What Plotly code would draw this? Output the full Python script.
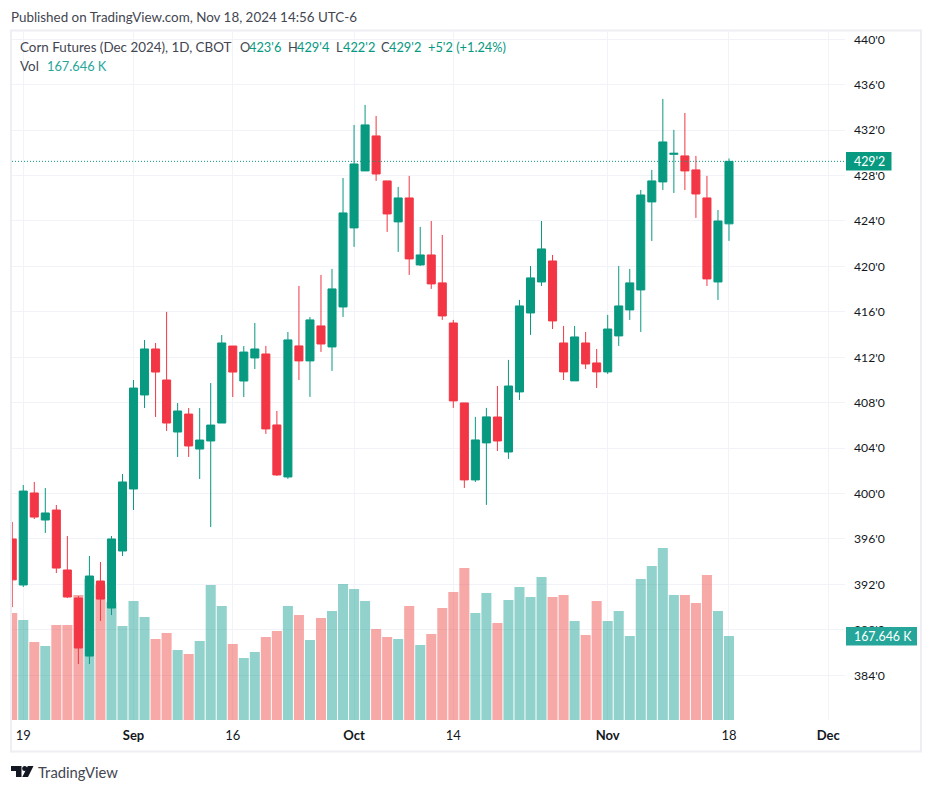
import pandas as pd
import plotly.graph_objects as go

# daily bars, Aug 16 to Nov 18 2024
opens = [396.0, 391.95, 400.05, 397.67, 398.55, 393.27, 390.8, 385.69, 392.3, 389.92, 394.94,
         400.4, 408.68, 412.73, 410.0, 405.42, 407.0, 403.92, 404.63, 406.21, 412.99,
         409.91, 411.94, 412.29, 406.04, 401.46, 413.0, 411.68, 414.76, 412.91, 416.43,
         423.39, 428.41, 431.49, 427.53, 423.92, 426.03, 420.13, 421.01, 418.55, 415.02,
         407.98, 401.2, 404.46, 406.74, 403.66, 408.95, 415.9, 418.63, 420.48, 413.26,
         409.92, 413.26, 411.5, 410.71, 413.88, 416.17, 417.93, 425.68, 427.44, 429.87,
         429.73, 428.5, 426.03, 418.63, 423.75]
highs = [397.5, 400.75, 401.02, 400.49, 398.99, 396.26, 390.98, 394.5, 393.97, 396.26, 401.72,
         410.0, 413.52, 413.26, 416.0, 407.97, 407.53, 407.53, 409.73, 413.96, 412.99,
         412.99, 415.02, 413.0, 407.27, 414.23, 418.28, 415.55, 419.25, 419.78, 427.79,
         432.46, 434.22, 433.25, 427.53, 427.0, 427.97, 423.48, 424.0, 422.77, 415.29,
         407.98, 406.75, 407.54, 409.47, 411.77, 417.05, 420.04, 424.0, 421.01, 414.76,
         414.76, 414.23, 412.73, 415.73, 420.04, 419.78, 426.73, 428.5, 434.75, 432.02,
         433.51, 429.73, 427.97, 424.97, 429.5]
lows = [390.0, 391.77, 397.76, 396.53, 393.0, 390.8, 384.99, 384.99, 388.78, 389.3, 394.5,
        398.55, 407.53, 406.74, 405.51, 403.22, 403.22, 401.28, 397.05, 406.21, 408.5,
        408.5, 410.97, 405.25, 401.55, 401.29, 410.0, 408.51, 412.47, 410.8, 415.55,
        421.72, 428.41, 427.53, 423.04, 421.28, 419.25, 420.04, 418.02, 415.29, 407.54,
        400.49, 401.02, 399.0, 403.75, 403.05, 408.24, 413.97, 418.28, 414.49, 410.0,
        409.92, 410.97, 409.3, 410.53, 413.0, 415.29, 414.23, 422.24, 426.73, 426.47,
        426.73, 424.27, 418.28, 417.05, 422.25]
closes = [392.4, 400.22, 397.93, 398.29, 393.44, 390.89, 386.4, 392.74, 390.71, 396.0, 401.02,
          409.29, 412.73, 410.7, 406.21, 407.27, 404.19, 404.71, 406.03, 413.26, 410.7,
          412.46, 412.73, 405.69, 401.64, 413.53, 411.68, 415.29, 413.17, 418.02, 424.71,
          429.02, 432.46, 428.14, 424.62, 426.03, 420.66, 421.01, 418.46, 415.64, 408.16,
          401.2, 404.72, 406.75, 404.63, 409.47, 416.52, 418.99, 421.54, 415.2, 410.71,
          413.79, 411.41, 410.71, 414.49, 416.52, 418.55, 426.29, 427.53, 430.96, 429.96,
          428.41, 426.38, 418.9, 424.0, 429.25]
volumes = [213.5, 199.6, 155.7, 147.7, 189.6, 189.6, 249.5, 281.4, 269.4, 235.5, 187.6,
           237.5, 205.6, 161.7, 173.6, 139.7, 131.7, 157.7, 269.4, 227.5, 151.7,
           123.7, 135.7, 165.6, 177.6, 227.5, 209.5, 159.7, 203.6, 217.5, 271.4,
           261.4, 237.5, 181.6, 165.6, 161.7, 227.5, 149.7, 171.6, 223.5, 255.4,
           303.3, 213.5, 253.5, 193.6, 239.5, 265.4, 245.5, 285.4, 245.5, 249.5,
           197.6, 169.6, 237.5, 197.6, 217.5, 167.6, 281.4, 307.3, 343.3, 249.5,
           249.5, 233.5, 289.4, 217.5, 167.646]

holidays = ["2024-09-02", "2024-11-28"]
days = [d.strftime("%Y-%m-%d") for d in pd.bdate_range("2024-08-16", "2024-12-06")
        if d.strftime("%Y-%m-%d") not in holidays]
dates = days[:len(closes)]

x_tick_dates = ["2024-08-19", "2024-09-03", "2024-09-16", "2024-10-01",
                "2024-10-14", "2024-11-01", "2024-11-18", "2024-12-02"]
x_tick_text = ["19", "<b>Sep</b>", "16", "<b>Oct</b>", "14", "<b>Nov</b>", "18", "<b>Dec</b>"]
y_ticks = list(range(384, 444, 4))
y_tick_text = [f"{v}'0" for v in y_ticks]

GREEN = "#089981"
RED = "#f23645"
VOL_GREEN = "rgba(38,166,154,0.5)"
VOL_RED = "rgba(239,83,80,0.5)"
GRID = "#f1f3f8"
TEXT = "#131722"
GREY = "#434651"
FONT = "Lato"

W, H = 932, 791
L, R, T, B = 12, 845, 31, 720


# pixel position of the page -> paper coords, only for the frame, header and logo
def px(x):
    return (x - L) / (R - L)


def py(y):
    return (B - y) / (B - T)


fig = go.Figure()

vol_colors = [VOL_GREEN if c >= o else VOL_RED for o, c in zip(opens, closes)]
fig.add_trace(go.Bar(x=dates, y=volumes, marker_color=vol_colors, marker_line_width=0,
                     width=0.91, hoverinfo="skip"))

fig.add_trace(go.Candlestick(
    x=dates, open=opens, high=highs, low=lows, close=closes,
    yaxis="y2",
    whiskerwidth=0,
    increasing=dict(line=dict(color=GREEN, width=1), fillcolor=GREEN),
    decreasing=dict(line=dict(color=RED, width=1), fillcolor=RED),
))

# frame around the chart
fig.add_shape(type="rect", xref="paper", yref="paper",
              x0=px(11), x1=px(921), y0=py(751.5), y1=py(30.5),
              line=dict(color="#eeeef4", width=2), layer="below")

# last price line and the two axis labels
fig.add_shape(type="line", xref="paper", yref="y2", x0=0, x1=1,
              y0=closes[-1], y1=closes[-1],
              line=dict(color=GREEN, width=1, dash="1px,2px"), layer="above")
fig.add_shape(type="rect", xref="paper", yref="paper",
              x0=px(846), x1=px(891.5), y0=py(170.5), y1=py(152),
              fillcolor=GREEN, line_width=0, layer="above")
fig.add_shape(type="rect", xref="paper", yref="paper",
              x0=px(846), x1=px(917), y0=py(645.5), y1=py(627),
              fillcolor="#26a69a", line_width=0, layer="above")


def label(x, y, text, color=GREY, size=13.4, anchor="left"):
    fig.add_annotation(xref="paper", yref="paper", x=px(x), y=py(y), text=text,
                       showarrow=False, xanchor=anchor, yanchor="middle",
                       font=dict(family=FONT, size=size, color=color),
                       borderpad=0, borderwidth=0)


label(854, 161.5, "429'2", "white", 12.4)
label(854, 636.5, "167.646 K", "white", 12.4)

label(11, 17, "Published on TradingView.com, Nov 18, 2024 14:56 UTC-6")
label(20, 47, "Corn Futures (Dec 2024), 1D, CBOT")
for x, t, c in [(240, "O", GREY), (249, "423'6", GREEN),
                (288, "H", GREY), (297, "429'4", GREEN),
                (336, "L", GREY), (343, "422'2", GREEN),
                (381, "C", GREY), (389, "429'2", GREEN),
                (428, "+5'2 (+1.24%)", GREEN)]:
    label(x, 47, t, c, 12.8)
label(20, 66, "Vol")
label(47, 66, "167.646 K", "#26a69a", 12.8)
label(38, 771.5, "TradingView", GREY, 14.8)


# TradingView logo
def logo_path(points):
    return "M" + " L".join(f"{px(x):.5f},{py(y):.5f}" for x, y in points) + " Z"


for pts in ([(11, 766), (21.5, 766), (21.5, 777), (16, 777), (16, 771), (11, 771)],
            [(27.8, 766), (33.5, 766), (28, 777), (22.3, 777)]):
    fig.add_shape(type="path", xref="paper", yref="paper", path=logo_path(pts),
                  fillcolor=TEXT, line_width=0)
fig.add_shape(type="circle", xref="paper", yref="paper",
              x0=px(22.2), x1=px(27.2), y0=py(771), y1=py(766),
              fillcolor=TEXT, line_width=0)

fig.update_layout(
    width=W, height=H,
    margin=dict(l=L, r=W - R, t=T, b=H - B, pad=0),
    paper_bgcolor="white", plot_bgcolor="white",
    showlegend=False,
    boxmode="group",
    boxgroupgap=0,
    boxgap=0.27,
    xaxis=dict(
        type="category", categoryorder="array", categoryarray=days,
        range=[-0.02, 75.52],
        tickmode="array", tickvals=x_tick_dates, ticktext=x_tick_text,
        tickangle=0, ticks="", showline=False, zeroline=False,
        gridcolor=GRID, gridwidth=1,
        ticklabelstandoff=6,
        tickfont=dict(family=FONT, size=13, color=TEXT),
        rangeslider=dict(visible=False),
    ),
    # volume sits under the candles, so it takes the base axis
    yaxis=dict(range=[0, 1375], visible=False, showgrid=False, fixedrange=True),
    yaxis2=dict(
        overlaying="y", side="right", anchor="x",
        range=[380.06, 440.73],
        tickmode="array", tickvals=y_ticks, ticktext=y_tick_text,
        ticks="", showline=False, zeroline=False,
        gridcolor=GRID, gridwidth=1,
        ticklabelstandoff=8,
        tickfont=dict(family=FONT, size=12.2, color=TEXT),
    ),
)

fig.write_html("out.html", config=dict(displayModeBar=False),
               post_script="document.body.style.margin='0';")
